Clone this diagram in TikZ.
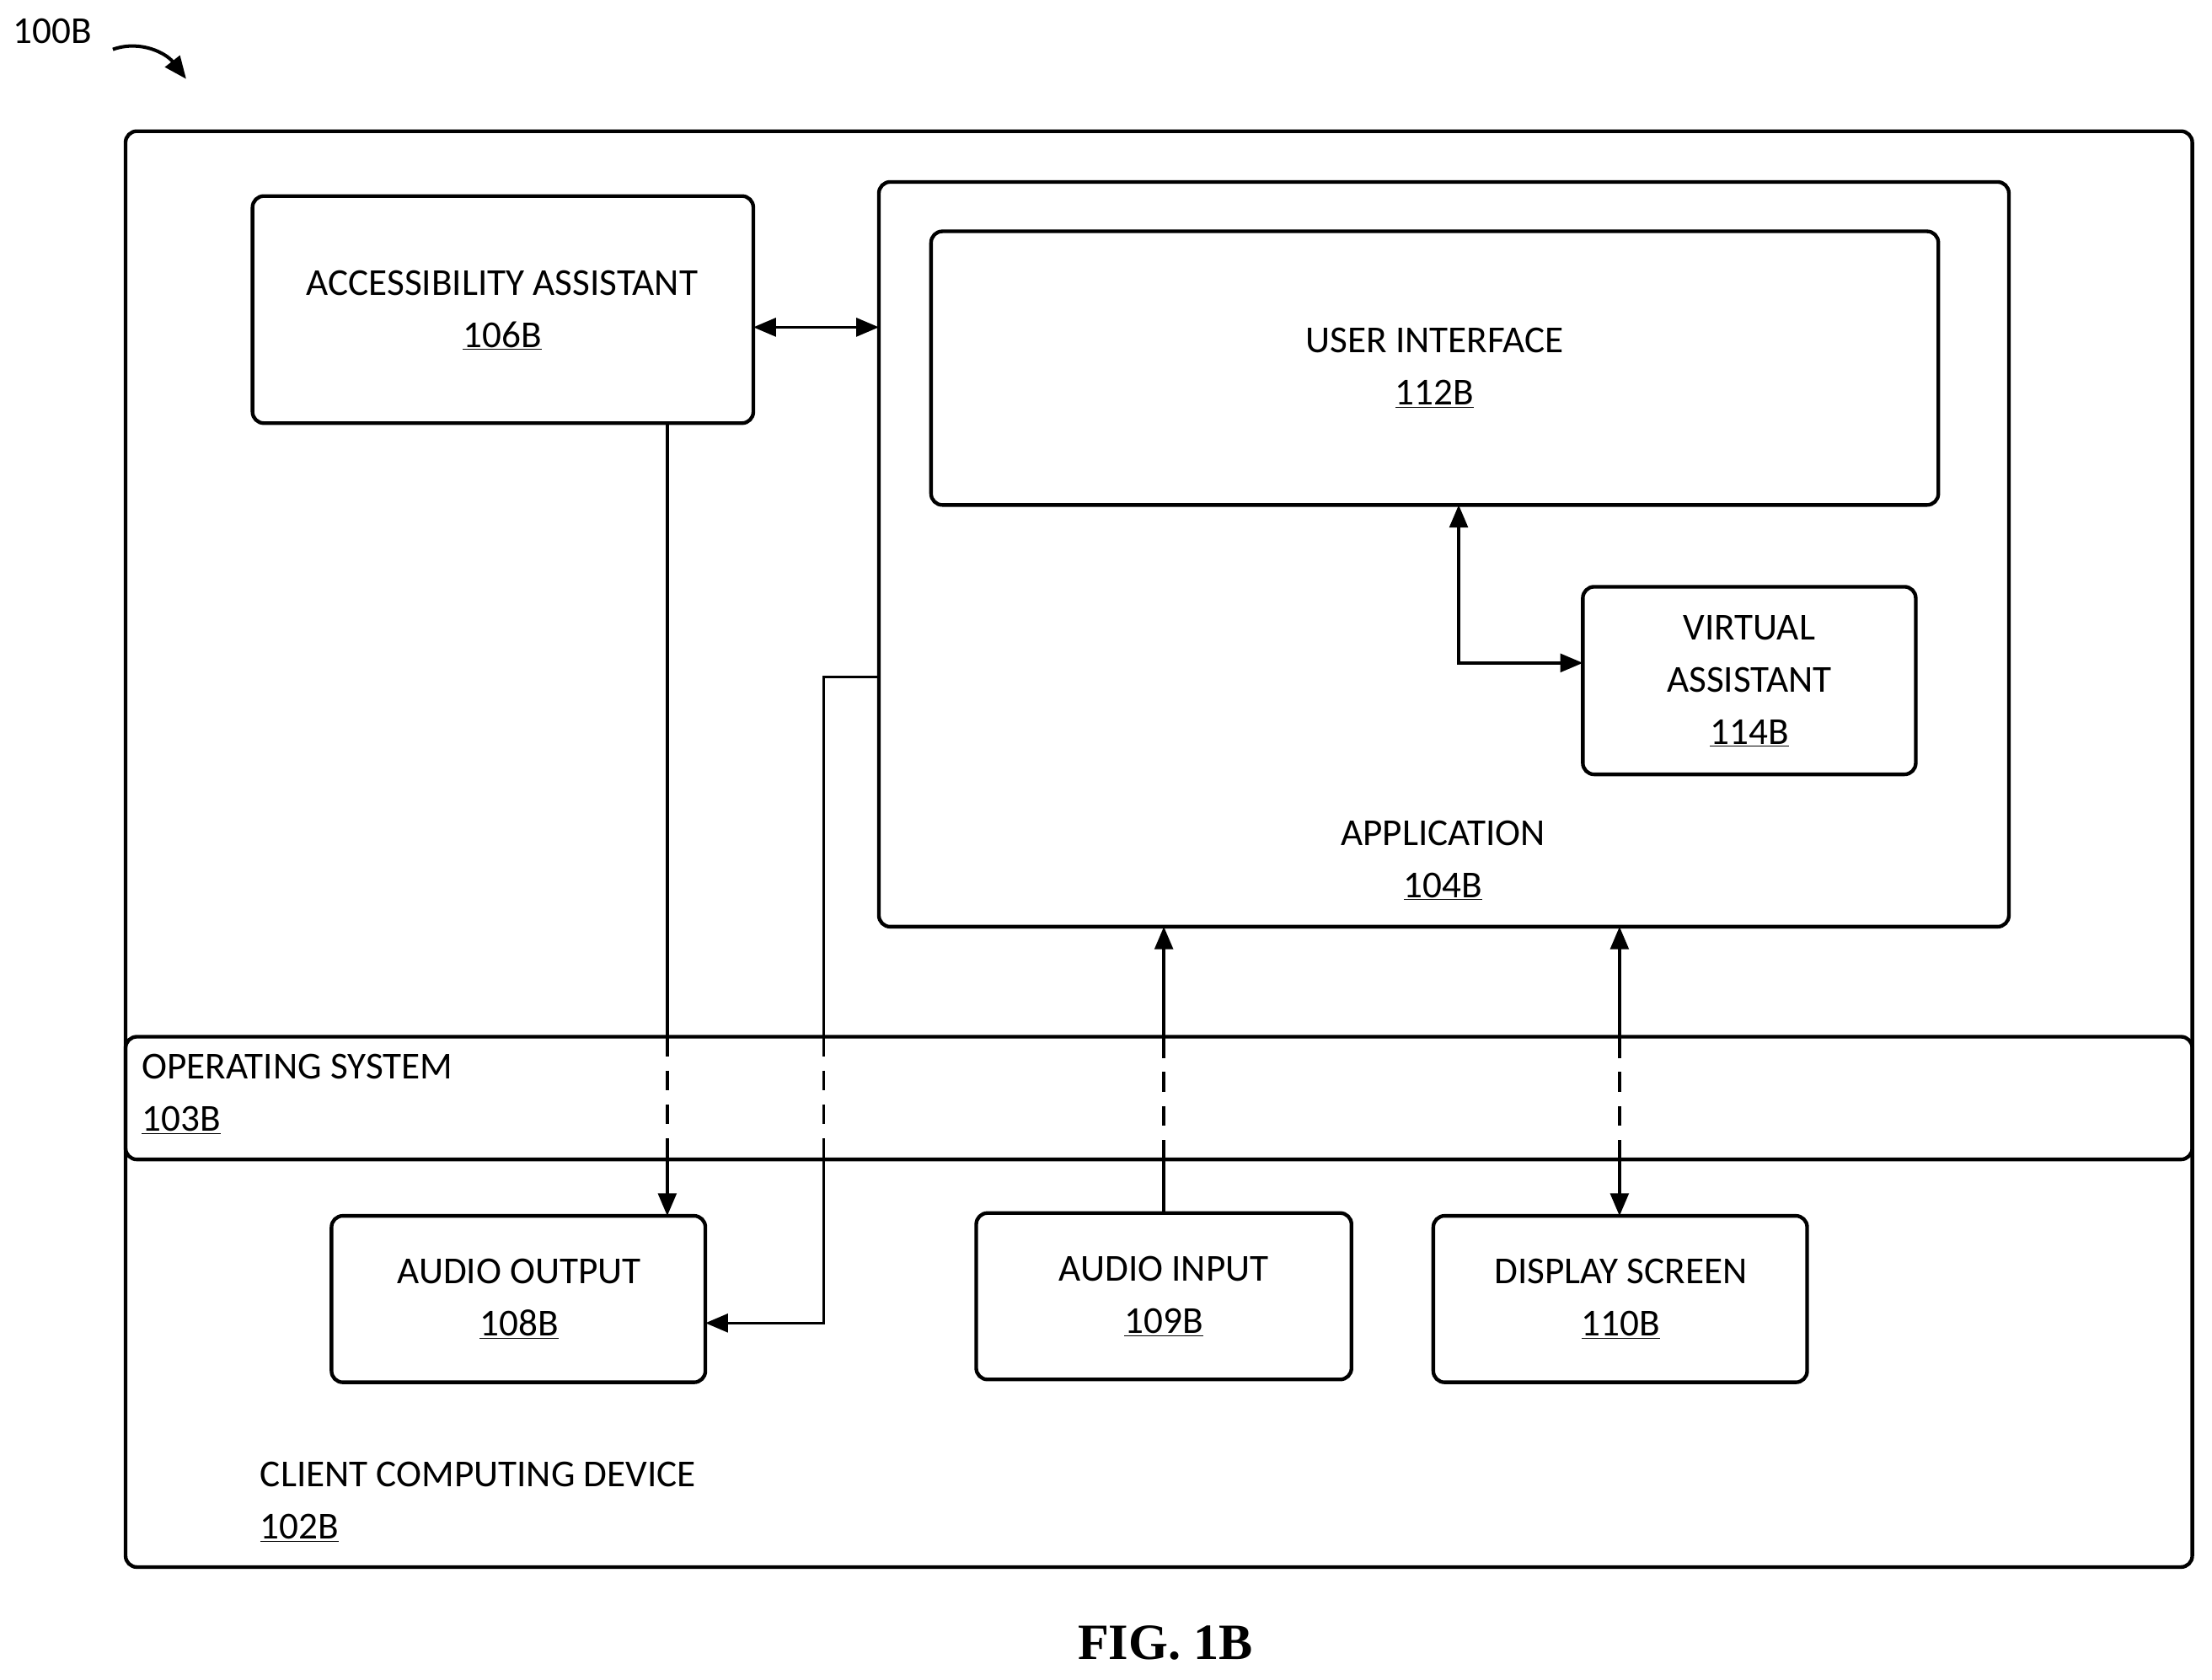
\documentclass[tikz,border=0pt]{standalone}
\usepackage{fontspec}
\setmainfont{Carlito}
\newfontfamily\figfont{Liberation Serif}
\usetikzlibrary{arrows.meta}
\begin{document}
\begin{tikzpicture}[x=1pt,y=-1pt,
  box/.style={draw,line width=2.6pt,rounded corners=8pt},
  lbl/.style={font=\fontsize{27}{37}\selectfont,align=center},
  ln/.style={line width=2pt},
  dl/.style={line width=2pt,dash pattern=on 14pt off 10pt},
  tip/.style={-{Triangle[length=16pt,width=13pt]}},
  tips/.style={{Triangle[length=16pt,width=13pt]}-{Triangle[length=16pt,width=13pt]}}]
\useasboundingbox (0,0) rectangle (1568,1191);
% boxes
\draw[box] (89,93) rectangle (1554,1111);
\draw[box] (89,735) rectangle (1554,822);
\draw[box] (179,139) rectangle (534,300);
\draw[box] (623,129) rectangle (1424,657);
\draw[box] (660,164) rectangle (1374,358);
\draw[box] (1122,416) rectangle (1358,549);
\draw[box] (235,862) rectangle (500,980);
\draw[box] (692,860) rectangle (958,978);
\draw[box] (1016,862) rectangle (1281,980);
% labels
\node[lbl] (acc) at (356,220) {ACCESSIBILITY ASSISTANT\\\underline{106B}};
\node[lbl] (app) at (1023,610) {APPLICATION\\\underline{104B}};
\node[lbl] (ui) at (1017,261) {USER INTERFACE\\\underline{112B}};
\node[lbl] (va) at (1240,483) {VIRTUAL\\ASSISTANT\\\underline{114B}};
\node[lbl,align=left,anchor=west] (os) at (97,776) {OPERATING SYSTEM\\\underline{103B}};
\node[lbl] (ao) at (368,921) {AUDIO OUTPUT\\\underline{108B}};
\node[lbl] (ai) at (825,919) {AUDIO INPUT\\\underline{109B}};
\node[lbl] (ds) at (1149,921) {DISPLAY SCREEN\\\underline{110B}};
\node[lbl,align=left,anchor=west] (cc) at (181,1065) {CLIENT COMPUTING DEVICE\\\underline{102B}};
\node[lbl,anchor=west] (ref) at (6,22) {100B};
\node[font=\figfont\bfseries\fontsize{36}{40}\selectfont] (fig) at (826,1165) {FIG. 1B};
% ref arrow
\coordinate (r1) at (80,35); \coordinate (r2) at (132,56);
\draw[line width=2.4pt,-{Triangle[length=16pt,width=13pt]}] (r1) .. controls (100,28) and (118,38) .. (r2);
% connectors
\coordinate (a1) at (534,232); \coordinate (a2) at (623,232);
\draw[ln,tips] (a1) -- (a2);
\coordinate (b1) at (473,300); \coordinate (b2) at (473,735); \coordinate (b3) at (473,822); \coordinate (b4) at (473,862);
\draw[ln] (b1) -- (b2); \draw[dl] (b2) -- (b3); \draw[ln,tip] (b3) -- (b4);
\coordinate (c1) at (623,480); \coordinate (c2) at (584,480); \coordinate (c3) at (584,735); \coordinate (c4) at (584,822); \coordinate (c5) at (584,938); \coordinate (c6) at (500,938);
\draw[ln] (c1) -- (c2) -- (c3); \draw[dl] (c3) -- (c4); \draw[ln,tip] (c4) -- (c5) -- (c6);
\coordinate (d1) at (825,860); \coordinate (d2) at (825,822); \coordinate (d3) at (825,735); \coordinate (d4) at (825,657);
\draw[ln] (d1) -- (d2); \draw[dl] (d2) -- (d3); \draw[ln,tip] (d3) -- (d4);
\coordinate (e1) at (1148,862); \coordinate (e2) at (1148,822); \coordinate (e3) at (1148,735); \coordinate (e4) at (1148,657);
\draw[ln,{Triangle[length=16pt,width=13pt]}-] (e1) -- (e2); \draw[dl] (e2) -- (e3); \draw[ln,tip] (e3) -- (e4);
\coordinate (f1) at (1034,358); \coordinate (f2) at (1034,470); \coordinate (f3) at (1122,470);
\draw[ln,tips] (f1) -- (f2) -- (f3);
\end{tikzpicture}
\end{document}
